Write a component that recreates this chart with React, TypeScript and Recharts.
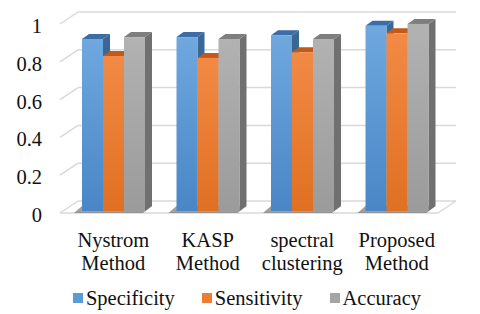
import React from 'react';
import { BarChart, Bar, XAxis, YAxis, CartesianGrid, Legend } from 'recharts';

const categories = ['Nystrom Method', 'KASP Method', 'spectral clustering', 'Proposed Method'];
const specificity = [0.91, 0.92, 0.93, 0.98];
const sensitivity = [0.82, 0.81, 0.84, 0.94];
const accuracy = [0.92, 0.91, 0.91, 0.99];
const yTicks = [0, 0.2, 0.4, 0.6, 0.8, 1];
const seriesNames = ['Specificity', 'Sensitivity', 'Accuracy'];

const data = categories.map((name, i) => ({
  name,
  Specificity: specificity[i],
  Sensitivity: sensitivity[i],
  Accuracy: accuracy[i],
}));

const palettes = [
  { base: '#5B9BD5', light: '#6FA8DF', dark: '#4A86C6', top: '#3D6DA6', side: '#3A6896' },
  { base: '#ED7D31', light: '#F28A45', dark: '#E07022', top: '#C25918', side: '#B05117' },
  { base: '#A5A5A5', light: '#B2B2B2', dark: '#9B9B9B', top: '#7E7E7E', side: '#707070' },
];

const FONT = '"Liberation Serif", "Times New Roman", serif';
const FONT_SIZE = 20.5;
const DX = 7;
const DY = 5;
// grid plane offsets relative to bar plane
const FRONT_DX = -6;
const FRONT_DY = 2;
const BACK_DX = 12;
const BACK_DY = -10;
const GRID = '#d9d9d9';
const X_AXIS_H = 30;
const LEGEND_H = 24;

const Bar3D = (props: any) => {
  const { x, y, width, height, index, sid } = props;
  if (x == null || y == null) return null;
  const pal = palettes[sid];
  const gid = `grad-${sid}-${index}`;
  const bottom = y + height;
  const r = x + width;
  const groupR = x + width * seriesNames.length;
  return (
    <g>
      <defs>
        <linearGradient id={gid} x1="0" y1="0" x2="0" y2="1">
          <stop offset="0" stopColor={pal.light} />
          <stop offset="1" stopColor={pal.dark} />
        </linearGradient>
      </defs>
      {sid === 0 && (
        <polygon
          points={`${x - 8},${bottom + 2} ${groupR - 2},${bottom + 2} ${groupR + DX},${bottom - DY} ${x},${bottom - DY}`}
          fill="#5f5f5f"
          opacity={0.6}
        />
      )}
      <polygon points={`${r},${y} ${r + DX},${y - DY} ${r + DX},${bottom - DY} ${r},${bottom}`} fill={pal.side} />
      <polygon points={`${x},${y} ${x + DX},${y - DY} ${r + DX},${y - DY} ${r},${y}`} fill={pal.top} />
      <rect x={x} y={y} width={width} height={height} fill={`url(#${gid})`} />
    </g>
  );
};

const GridLine = (p: any) => {
  const { x1, y1, x2, y2 } = p;
  const bottom = p.y != null && p.height != null ? p.y + p.height : null;
  const isFloor = bottom != null && Math.abs(y1 - bottom) < 0.5;
  return (
    <g>
      <line x1={x1 + BACK_DX} y1={y1 + BACK_DY} x2={x2 + BACK_DX} y2={y2 + BACK_DY} stroke={GRID} strokeWidth={1.5} />
      <line x1={x1 + FRONT_DX} y1={y1 + FRONT_DY} x2={x1 + BACK_DX} y2={y1 + BACK_DY} stroke={GRID} strokeWidth={1.5} />
      {isFloor && (
        <>
          <line x1={x1 + FRONT_DX} y1={y1 + FRONT_DY} x2={x2 + FRONT_DX} y2={y2 + FRONT_DY} stroke={GRID} strokeWidth={1.5} />
          <line x1={x2 + FRONT_DX} y1={y2 + FRONT_DY} x2={x2 + BACK_DX} y2={y2 + BACK_DY} stroke={GRID} strokeWidth={1.5} />
        </>
      )}
    </g>
  );
};

const XTick = (props: any) => {
  const { x, y, payload } = props;
  const s = String(payload.value);
  const k = s.indexOf(' ');
  const l1 = k >= 0 ? s.slice(0, k) : s;
  const l2 = k >= 0 ? s.slice(k + 1) : '';
  return (
    <text x={x} y={y} textAnchor="middle" fill="#111" style={{ fontFamily: FONT, fontSize: FONT_SIZE }}>
      <tspan x={x} dy={36}>{l1}</tspan>
      <tspan x={x} dy={23.3}>{l2}</tspan>
    </text>
  );
};

const YTick = (props: any) => {
  const { x, y, payload } = props;
  return (
    <text x={x} y={y + 11} textAnchor="end" fill="#111" style={{ fontFamily: FONT, fontSize: FONT_SIZE }}>
      {String(payload.value)}
    </text>
  );
};

const LegendContent = (props: any) => {
  const payload = [...(props.payload || [])].sort(
    (a: any, b: any) => seriesNames.indexOf(a.value) - seriesNames.indexOf(b.value)
  );
  return (
    <div
      style={{
        display: 'flex',
        justifyContent: 'center',
        paddingLeft: 14,
        fontFamily: FONT,
        fontSize: FONT_SIZE,
        lineHeight: `${LEGEND_H}px`,
        height: LEGEND_H,
        color: '#111',
      }}
    >
      {payload.map((it: any, i: number) => (
        <div key={i} style={{ display: 'flex', alignItems: 'center', marginRight: i < payload.length - 1 ? 27 : 0 }}>
          <span style={{ display: 'inline-block', width: 10, height: 10, background: it.color, marginRight: 3 }} />
          <span>{it.value}</span>
        </div>
      ))}
    </div>
  );
};

export default function App() {
  return (
    <div style={{ position: 'absolute', left: 0, top: 0, width: 480, height: 314, background: '#fff' }}>
      <BarChart
        width={480}
        height={314}
        data={data}
        margin={{ top: 22, right: 36, bottom: 103 - X_AXIS_H - LEGEND_H, left: 0 }}
        barCategoryGap={16}
        barGap={0}
      >
        <CartesianGrid vertical={false} horizontal={(p: any) => <GridLine {...p} />} />
        <XAxis
          dataKey="name"
          height={X_AXIS_H}
          axisLine={false}
          tickLine={false}
          tickSize={0}
          tickMargin={0}
          interval={0}
          tick={<XTick />}
        />
        <YAxis
          domain={[0, 1]}
          ticks={yTicks}
          width={66}
          axisLine={false}
          tickLine={false}
          tickSize={0}
          tickMargin={24}
          tick={<YTick />}
        />
        {seriesNames.map((n, i) => (
          <Bar
            key={n}
            dataKey={n}
            name={n}
            fill={palettes[i].base}
            isAnimationActive={false}
            shape={(p: any) => <Bar3D {...p} sid={i} />}
          />
        ))}
        <Legend
          content={<LegendContent />}
          wrapperStyle={{ top: 286, left: 0, width: 480, bottom: 'auto' }}
        />
      </BarChart>
    </div>
  );
}
